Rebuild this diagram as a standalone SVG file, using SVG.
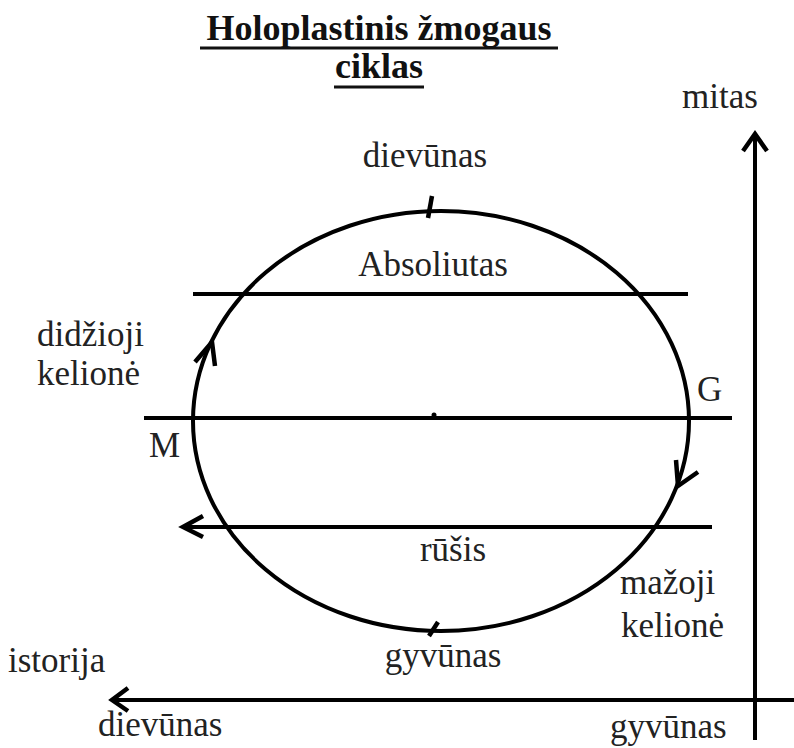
<svg xmlns="http://www.w3.org/2000/svg" width="794" height="748" viewBox="0 0 794 748">
<style>
.t{font-size:35px;fill:#222}
.title{font-size:36px;font-weight:bold;fill:#111}
.ln{stroke:#000;stroke-width:4;fill:none}
.ah{stroke:#000;stroke-width:4.5;fill:none;stroke-linejoin:miter;stroke-linecap:butt}
</style>
<rect width="794" height="748" fill="#fff"/>
<g id="title" font-family="'Liberation Serif', 'Times New Roman', 'DejaVu Serif', serif">
<text class="title" x="379" y="40" text-anchor="middle">Holoplastinis žmogaus</text>
<text class="title" x="379" y="78" text-anchor="middle">ciklas</text>
<line x1="200" y1="48" x2="558" y2="48" stroke="#111" stroke-width="3"/>
<line x1="334" y1="87" x2="424" y2="87" stroke="#111" stroke-width="3"/>
</g>
<g id="connectors">
<ellipse class="ln" cx="441" cy="421" rx="248" ry="210"/>
<line class="ln" x1="193" y1="294" x2="688" y2="294"/>
<line class="ln" x1="144" y1="418" x2="732" y2="418"/>
<circle cx="434" cy="415" r="2.5" fill="#000"/>
<line class="ln" x1="184" y1="527" x2="712" y2="527"/>
<line class="ln" x1="114" y1="700" x2="794" y2="700"/>
<line class="ln" x1="755" y1="136" x2="755" y2="740"/>
<polyline class="ah" points="203,516 183,527 203,537"/>
<polyline class="ah" points="128,688 112,700 128,711"/>
<polyline class="ah" points="743,151 755,134 767,151"/>
<polyline class="ah" points="195,362 212,342 215,366"/>
<polyline class="ah" points="676,460 678,486 698,472"/>
<line class="ah" x1="432" y1="196" x2="428" y2="218"/>
<line class="ah" x1="438" y1="622" x2="429" y2="636"/>
</g>
<g id="labels" font-family="'Liberation Serif', 'Times New Roman', 'DejaVu Serif', serif">
<text class="t" x="720" y="108" text-anchor="middle">mitas</text>
<text class="t" x="425" y="167" text-anchor="middle">dievūnas</text>
<text class="t" x="433" y="276" text-anchor="middle">Absoliutas</text>
<text class="t" x="37" y="346">didžioji</text>
<text class="t" x="37" y="385">kelionė</text>
<text class="t" x="697" y="401">G</text>
<text class="t" x="149" y="457">M</text>
<text class="t" x="453" y="561" text-anchor="middle">rūšis</text>
<text class="t" x="620" y="594">mažoji</text>
<text class="t" x="621" y="637">kelionė</text>
<text class="t" x="443" y="667" text-anchor="middle">gyvūnas</text>
<text class="t" x="8" y="672">istorija</text>
<text class="t" x="98" y="736">dievūnas</text>
<text class="t" x="610" y="738">gyvūnas</text>
</g>
</svg>
